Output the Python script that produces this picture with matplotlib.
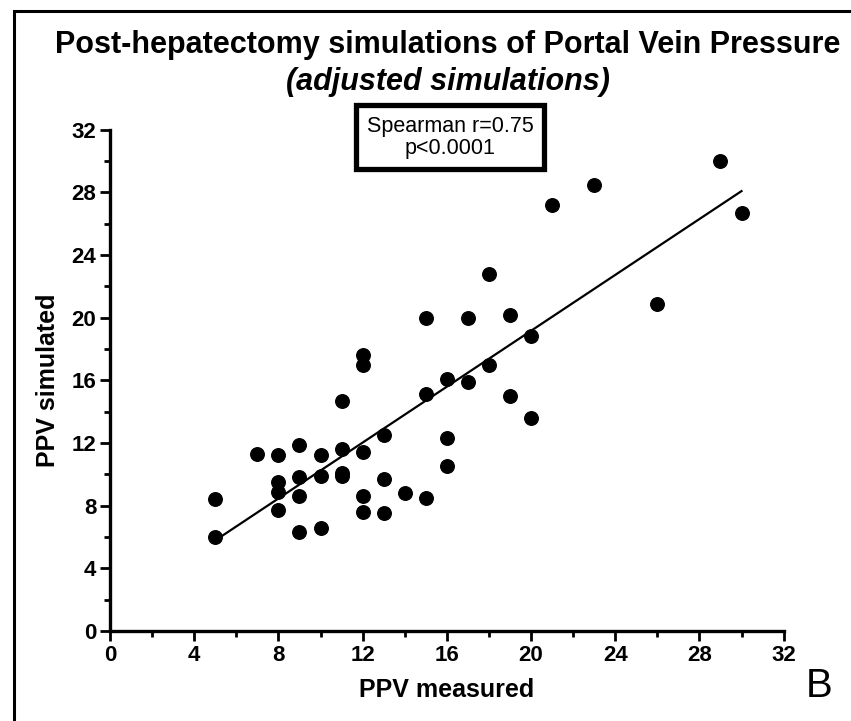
import matplotlib
matplotlib.use("Agg")
import matplotlib.pyplot as plt
from matplotlib.patches import Rectangle
from matplotlib.ticker import MultipleLocator
import numpy as np

plt.rcParams['font.family'] = ['Liberation Sans', 'DejaVu Sans']

# PPV measured vs PPV simulated
ppv_measured = [5, 5, 7, 8, 8, 8, 8, 9, 9, 9, 9, 10, 10, 10,
                11, 11, 11, 11, 12, 12, 12, 12, 12, 13, 13, 13, 14,
                15, 15, 15, 16, 16, 16, 17, 17, 18, 18, 19, 19, 20, 20,
                21, 23, 26, 29, 30]
ppv_simulated = [8.4, 6.0, 11.3, 11.2, 9.5, 8.9, 7.7, 11.9, 9.8, 8.6, 6.3, 11.2, 9.9, 6.6,
                 14.7, 11.6, 10.1, 9.9, 17.6, 17.0, 11.4, 8.6, 7.6, 12.5, 9.7, 7.5, 8.8,
                 20.0, 15.1, 8.5, 16.1, 12.3, 10.5, 20.0, 15.9, 22.8, 17.0, 20.2, 15.0, 18.8, 13.6,
                 27.2, 28.5, 20.9, 30.0, 26.7]
ticks = [0, 4, 8, 12, 16, 20, 24, 28, 32]

fig = plt.figure(figsize=(8.51, 7.21), dpi=100)
ax = fig.add_axes([0.1293, 0.125, 0.7915, 0.695])

x = np.array(ppv_measured, dtype=float)
y = np.array(ppv_simulated, dtype=float)
ax.scatter(x, y, s=95, c='black', zorder=3)

slope, intercept = np.polyfit(x, y, 1)
xs = np.array([x.min(), x.max()])
ax.plot(xs, slope * xs + intercept, color='black', lw=1.6, zorder=2)

ax.set_xlim(0, 32)
ax.set_ylim(0, 32)
ax.set_xticks(ticks)
ax.set_yticks(ticks)
ax.xaxis.set_minor_locator(MultipleLocator(2))
ax.yaxis.set_minor_locator(MultipleLocator(2))
for s in ['top', 'right']:
    ax.spines[s].set_visible(False)
for s in ['left', 'bottom']:
    ax.spines[s].set_linewidth(2.4)
ax.tick_params(which='major', length=7, width=2, labelsize=16, pad=3)
ax.tick_params(which='minor', length=4, width=2)
for lab in ax.get_xticklabels() + ax.get_yticklabels():
    lab.set_fontweight('bold')

ax.set_xlabel('PPV measured', fontsize=18, fontweight='bold', labelpad=9)
ax.set_ylabel('PPV simulated', fontsize=18, fontweight='bold', labelpad=8)

fig.text(0.526, 0.937, 'Post-hepatectomy simulations of Portal Vein Pressure',
         ha='center', va='center', fontsize=22, fontweight='bold')
fig.text(0.526, 0.886, '(adjusted simulations)', ha='center', va='center',
         fontsize=22, fontweight='bold', style='italic')

ax.text(0.505, 0.985, 'Spearman r=0.75\np<0.0001', transform=ax.transAxes,
        ha='center', va='center', fontsize=15.5, linespacing=1.05,
        bbox=dict(boxstyle='square,pad=0.5', fc='white', ec='black', lw=3.8))

fig.text(0.963, 0.048, 'B', ha='center', va='center', fontsize=29)

# outer frame of the panel
fig.patches.append(Rectangle((14 / 851, -0.05), 1.0, 1.05 - 11 / 721,
                             transform=fig.transFigure, fill=False,
                             ec='black', lw=2.2))

fig.savefig('out.png', dpi=100)
